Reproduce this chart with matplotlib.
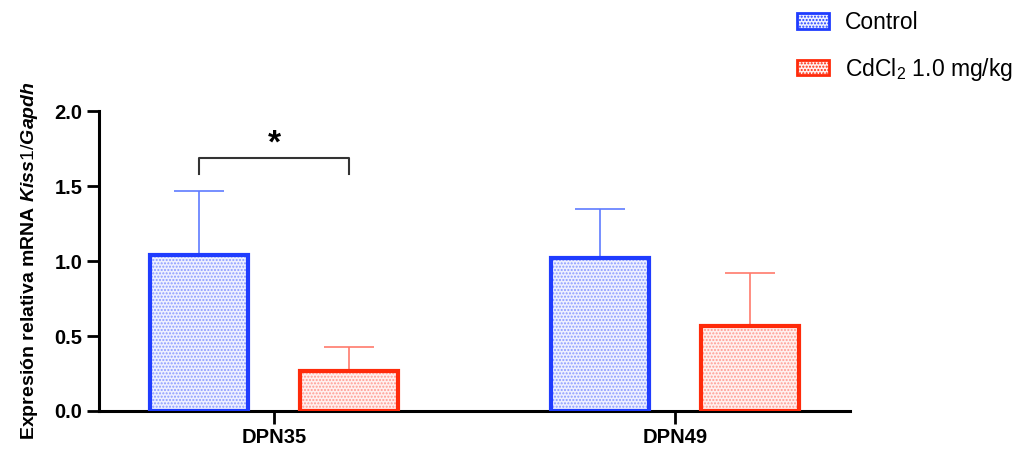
import numpy as np
import matplotlib.pyplot as plt
from matplotlib.patches import Patch

plt.rcParams['font.family'] = ['Liberation Sans', 'DejaVu Sans']
plt.rcParams['mathtext.fontset'] = 'custom'
plt.rcParams['mathtext.rm'] = 'Liberation Sans'
plt.rcParams['mathtext.it'] = 'Liberation Sans:italic:bold'
plt.rcParams['mathtext.bf'] = 'Liberation Sans:bold'
plt.rcParams['hatch.linewidth'] = 1.0

# data
groups = ['DPN35', 'DPN49']
series = ['Control', 'CdCl$_2$ 1.0 mg/kg']
control_mean = [1.04, 1.02]
control_err = [0.43, 0.33]
cd_mean = [0.27, 0.57]
cd_err = [0.16, 0.35]

edge_cols = ['#1f3cff', '#ff2a0a']
hatch_cols = ['#8a9bff', '#ff9a90']
face_cols = ['#eef0ff', '#fff0ef']
err_cols = ['#5f7bff', '#ff7a6c']

fig = plt.figure(figsize=(10.18, 4.5), dpi=100)
ax = fig.add_axes([0.0973, 0.0867, 0.7377, 0.6663])

x = np.arange(len(groups))
w = 0.244
off = 0.187

for i, (m, e) in enumerate([(control_mean, control_err), (cd_mean, cd_err)]):
    pos = x - off if i == 0 else x + off
    ax.bar(pos, m, w, color=face_cols[i], edgecolor=hatch_cols[i], hatch='.....',
           linewidth=0, zorder=2)
    ax.bar(pos, m, w, fill=False, edgecolor=edge_cols[i], linewidth=3, zorder=3)
    ax.errorbar(pos, m, yerr=[np.zeros(len(m)), e], fmt='none', ecolor=err_cols[i],
                elinewidth=1.2, capsize=18, capthick=1.2, zorder=1)

# significance bracket
bx = [x[0] - off, x[0] - off, x[0] + off, x[0] + off]
by = [1.58, 1.69, 1.69, 1.58]
ax.plot(bx, by, color='#333333', lw=1.5, clip_on=False)
ax.text(x[0], 1.68, '*', ha='center', va='bottom', fontsize=24, fontweight='bold')

ax.set_xlim(-0.436, 1.436)
ax.set_ylim(0, 2.0)
ax.set_yticks([0, 0.5, 1.0, 1.5, 2.0])
ax.set_yticklabels(['0.0', '0.5', '1.0', '1.5', '2.0'])
ax.set_xticks(x)
ax.set_xticklabels(groups)
for lab in ax.get_xticklabels() + ax.get_yticklabels():
    lab.set_fontweight('bold')
    lab.set_fontsize(14.5)
ax.tick_params(axis='both', width=2, length=9, direction='out', pad=3)
ax.spines['top'].set_visible(False)
ax.spines['right'].set_visible(False)
ax.spines['left'].set_linewidth(2.2)
ax.spines['bottom'].set_linewidth(2.2)
ax.set_ylabel('Expresión relativa mRNA $\\mathit{Kiss1/Gapdh}$', fontsize=14,
              fontweight='bold', labelpad=10)

handles = [Patch(facecolor=face_cols[i], edgecolor=edge_cols[i], hatch='.....', linewidth=2)
           for i in range(2)]
fig.legend(handles, series, loc='upper left', bbox_to_anchor=(797 / 1018, 1 - 11 / 450),
           frameon=False, fontsize=16.5, handlelength=1.4, handleheight=0.65,
           labelspacing=0.95, handletextpad=0.7, borderpad=0, borderaxespad=0)

plt.savefig('out.png', dpi=100)
